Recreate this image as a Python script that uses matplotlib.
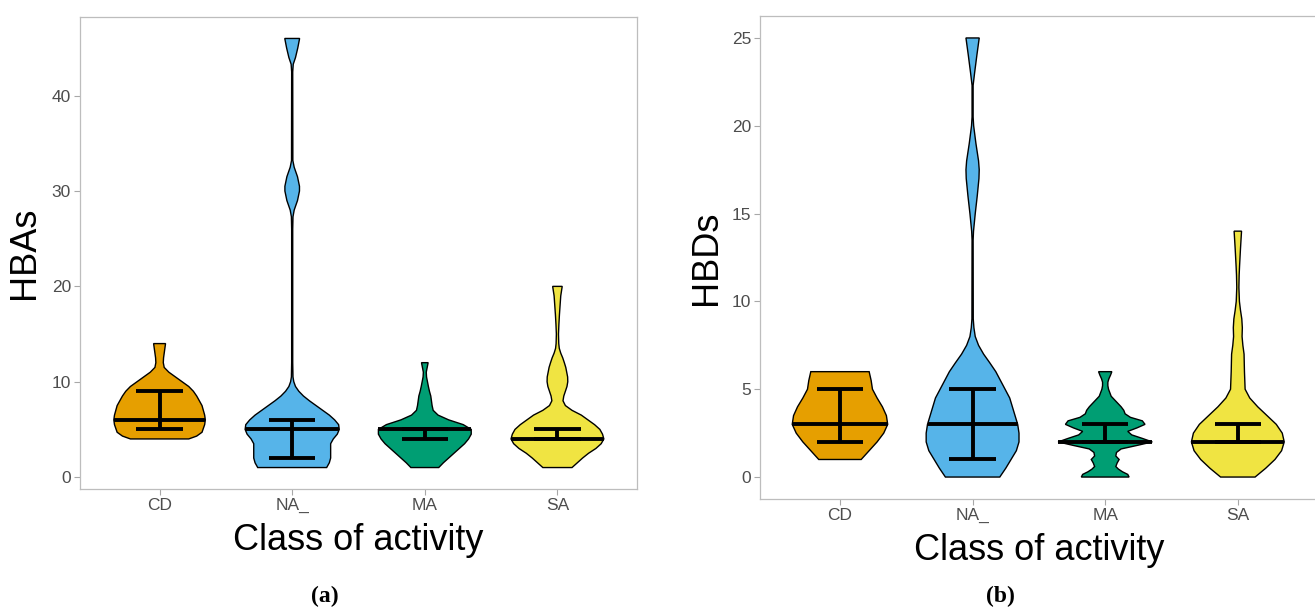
import numpy as np
import matplotlib
matplotlib.use('Agg')
import matplotlib.pyplot as plt

plt.rcParams['font.family'] = ['Liberation Sans', 'DejaVu Sans']

# categorie e colori
classi = ['CD', 'NA_', 'MA', 'SA']
colori = ['#E69F00', '#56B4E9', '#009E73', '#F0E442']

# mediana e quartili (HBAs)
hba_med = [6, 5, 5, 4]
hba_q1 = [5, 2, 4, 4]
hba_q3 = [9, 6, 5, 5]

# mediana e quartili (HBDs)
hbd_med = [3, 3, 2, 2]
hbd_q1 = [2, 1, 2, 2]
hbd_q3 = [5, 5, 3, 3]

# profili dei violini: livello y e semi-larghezza
cd_a_y = [4.0, 4.3, 4.7, 5.5, 6.0, 6.5, 7.0, 7.5, 8.0, 8.5, 9.0, 9.5, 10.0, 10.5, 11.0, 11.5, 12.0, 12.5, 13.0, 13.5, 14.0]
cd_a_w = [0.22, 0.28, 0.32, 0.34, 0.345, 0.34, 0.33, 0.32, 0.30, 0.28, 0.255, 0.22, 0.17, 0.12, 0.07, 0.035, 0.028, 0.03, 0.035, 0.04, 0.045]

na_a_y = [1.0, 1.5, 2.0, 2.5, 3.0, 3.5, 4.0, 4.5, 5.0, 5.5, 6.0, 6.5, 7.0, 7.5, 8.0, 8.5, 9.0, 9.5, 10.0, 10.5,
          12.0, 26.0, 27.3, 28.0, 29.0, 30.0, 30.5, 31.5, 32.5, 33.2, 42.5, 43.3, 44.0, 45.0, 46.0]
na_a_w = [0.26, 0.28, 0.29, 0.29, 0.29, 0.29, 0.31, 0.34, 0.355, 0.35, 0.32, 0.28, 0.23, 0.18, 0.13, 0.085, 0.05, 0.025, 0.012, 0.006,
          0.004, 0.004, 0.006, 0.015, 0.04, 0.055, 0.055, 0.04, 0.015, 0.005, 0.004, 0.008, 0.025, 0.042, 0.056]

ma_a_y = [1.0, 1.5, 2.0, 2.5, 3.0, 3.5, 4.0, 4.5, 5.0, 5.5, 6.0, 6.5, 7.0, 7.5, 8.0, 8.5, 9.0, 9.5, 10.0, 10.5, 11.0, 11.5, 12.0]
ma_a_w = [0.105, 0.14, 0.18, 0.22, 0.26, 0.30, 0.33, 0.35, 0.35, 0.29, 0.18, 0.10, 0.063, 0.055, 0.05, 0.045, 0.035, 0.027, 0.02, 0.013, 0.011, 0.018, 0.025]

sa_a_y = [1.0, 1.5, 2.0, 2.5, 3.0, 3.5, 4.0, 4.5, 5.0, 5.5, 6.0, 6.5, 7.0, 7.5, 8.0, 8.5, 9.0, 9.5, 10.0, 10.5, 11.0, 11.5, 12.0, 12.5,
          13.0, 13.5, 14.0, 15.0, 16.0, 17.0, 18.0, 19.0, 20.0]
sa_a_w = [0.11, 0.15, 0.19, 0.235, 0.29, 0.33, 0.35, 0.34, 0.32, 0.28, 0.23, 0.18, 0.11, 0.06, 0.042, 0.048, 0.06, 0.072, 0.078, 0.077, 0.07, 0.063, 0.052, 0.04,
          0.025, 0.014, 0.01, 0.008, 0.011, 0.015, 0.02, 0.025, 0.036]

cd_b_y = [1.0, 1.5, 2.0, 2.5, 3.0, 3.5, 4.0, 4.5, 5.0, 5.5, 6.0]
cd_b_w = [0.16, 0.22, 0.28, 0.33, 0.36, 0.35, 0.32, 0.28, 0.245, 0.235, 0.22]

na_b_y = [0.0, 0.5, 1.0, 1.5, 2.0, 2.5, 3.0, 3.5, 4.0, 4.5, 5.0, 5.5, 6.0, 6.5, 7.0, 7.5, 8.0, 8.5, 9.0,
          13.5, 14.0, 15.0, 16.0, 17.0, 17.5, 18.0, 19.0, 20.0, 20.5, 22.3, 23.0, 24.0, 25.0]
na_b_w = [0.205, 0.25, 0.29, 0.33, 0.35, 0.35, 0.34, 0.32, 0.30, 0.28, 0.245, 0.21, 0.175, 0.13, 0.083, 0.045, 0.02, 0.01, 0.005,
          0.004, 0.007, 0.02, 0.035, 0.048, 0.05, 0.045, 0.025, 0.008, 0.004, 0.004, 0.015, 0.032, 0.05]

ma_b_y = [0.0, 0.15, 0.3, 0.45, 0.6, 0.8, 1.0, 1.2, 1.4, 1.6, 1.8, 2.0, 2.2, 2.4, 2.6, 2.8, 3.0, 3.2, 3.4, 3.6,
          3.8, 4.0, 4.2, 4.4, 4.6, 4.8, 5.0, 5.2, 5.4, 5.6, 5.8, 6.0]
ma_b_w = [0.18, 0.17, 0.13, 0.10, 0.08, 0.09, 0.105, 0.08, 0.085, 0.12, 0.24, 0.355, 0.28, 0.20, 0.17, 0.24, 0.30, 0.28, 0.19, 0.15,
          0.14, 0.12, 0.095, 0.07, 0.045, 0.035, 0.025, 0.02, 0.02, 0.028, 0.04, 0.05]

sa_b_y = [0.0, 0.5, 1.0, 1.5, 2.0, 2.5, 3.0, 3.5, 4.0, 4.5, 5.0, 6.0, 7.0, 7.5, 8.0, 8.5, 9.0, 9.5, 10.0, 10.8, 11.5, 12.0, 13.0, 14.0]
sa_b_w = [0.13, 0.21, 0.28, 0.33, 0.35, 0.335, 0.29, 0.22, 0.15, 0.09, 0.055, 0.05, 0.047, 0.038, 0.032, 0.034, 0.03, 0.02, 0.012, 0.008, 0.01, 0.013, 0.02, 0.028]

prof_a = [(cd_a_y, cd_a_w), (na_a_y, na_a_w), (ma_a_y, ma_a_w), (sa_a_y, sa_a_w)]
prof_b = [(cd_b_y, cd_b_w), (na_b_y, na_b_w), (ma_b_y, ma_b_w), (sa_b_y, sa_b_w)]

W, H = 1315, 608
fig = plt.figure(figsize=(W / 100, H / 100), dpi=100)


def pannello(ax, profili, med, q1, q3, ylab, ylim, yticks, xlabpad, ylabpad):
    for i, (py, pw) in enumerate(profili):
        c = i + 1
        py = np.array(py)
        pw = np.array(pw)
        #contorno del violino
        xs = np.concatenate([c - pw, (c + pw)[::-1]])
        ys = np.concatenate([py, py[::-1]])
        ax.fill(xs, ys, facecolor=colori[i], edgecolor='black', linewidth=1.0, zorder=2)
        #mediana lungo tutta la larghezza del violino
        wm = np.interp(med[i], py, pw)
        ax.plot([c - wm, c + wm], [med[i], med[i]], color='black', lw=2.8, solid_capstyle='butt', zorder=3)
        #barra dei quartili
        ax.plot([c, c], [q1[i], q3[i]], color='black', lw=2.8, solid_capstyle='butt', zorder=3)
        for q in (q1[i], q3[i]):
            ax.plot([c - 0.175, c + 0.175], [q, q], color='black', lw=2.8, solid_capstyle='butt', zorder=3)
    ax.set_xlim(0.4, 4.6)
    ax.set_ylim(*ylim)
    ax.set_xticks(range(1, 5))
    ax.set_xticklabels(classi)
    ax.set_yticks(yticks)
    for s in ax.spines.values():
        s.set_color('#BDBDBD')
        s.set_linewidth(0.9)
    ax.tick_params(direction='out', length=4, width=0.8, color='#A8A8A8',
                   labelsize=12.5, labelcolor='#4D4D4D', pad=2.5)
    ax.set_xlabel('Class of activity', fontsize=26, labelpad=xlabpad)
    ax.set_ylabel(ylab, fontsize=26, labelpad=ylabpad)


ax1 = fig.add_axes([80 / W, (H - 489) / H, 557 / W, 472 / H])
pannello(ax1, prof_a, hba_med, hba_q1, hba_q3, 'HBAs', (-1.25, 48.25), [0, 10, 20, 30, 40], 7, 7)

ax2 = fig.add_axes([760.4 / W, (H - 499) / H, 557 / W, 483 / H])
pannello(ax2, prof_b, hbd_med, hbd_q1, hbd_q3, 'HBDs', (-1.25, 26.25), [0, 5, 10, 15, 20, 25], 7, 6)

fig.text(325 / W, 1 - 596 / H, '(a)', ha='center', va='center', fontsize=17,
         family='Liberation Serif', weight='bold')
fig.text(1000 / W, 1 - 596 / H, '(b)', ha='center', va='center', fontsize=17,
         family='Liberation Serif', weight='bold')

fig.savefig('out.png', dpi=100)
